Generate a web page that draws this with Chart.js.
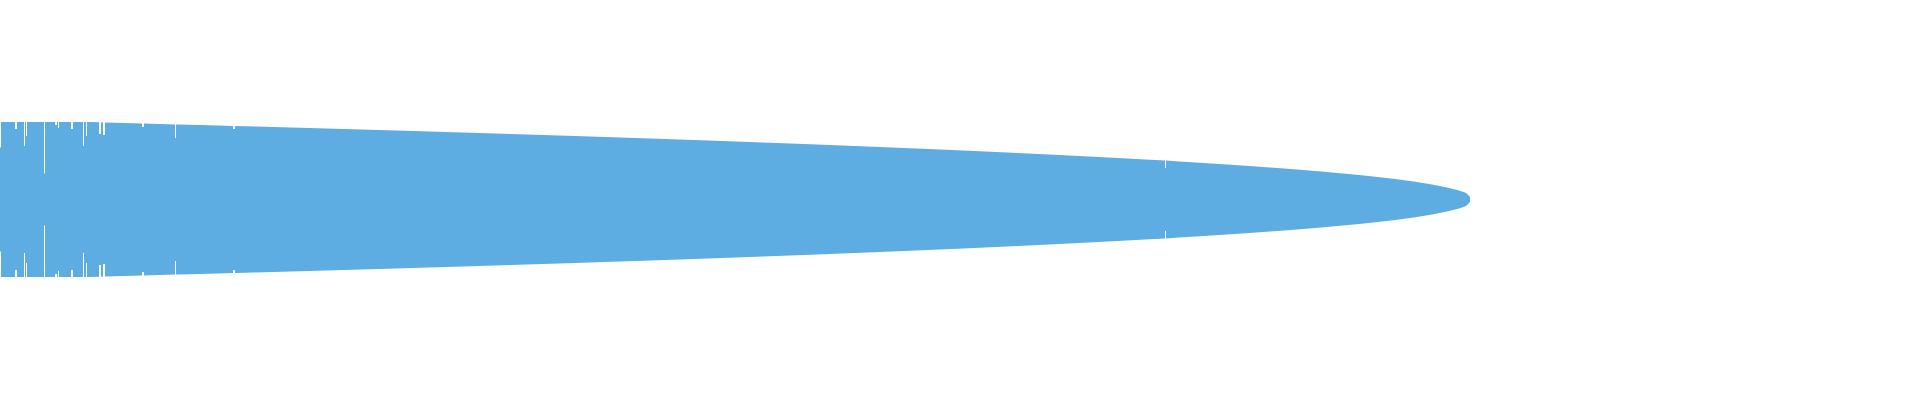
<!DOCTYPE html>
<html>
<head>
<meta charset="utf-8">
<script src="https://cdn.jsdelivr.net/npm/chart.js@4/dist/chart.umd.min.js"></script>
<style>
  html, body { margin: 0; padding: 0; background: #ffffff; }
  #wrap { width: 1920px; height: 400px; }
</style>
</head>
<body>
<div id="wrap"><canvas id="myChart"></canvas></div>
<script>
// position along the axis
const rank = [
    0, 1, 1, 15, 15, 17, 17, 24, 24, 25, 25, 26, 26, 27, 27,
    44, 44, 45, 45, 55, 55, 57, 57, 58, 58, 59, 59,
    71, 71, 73, 73, 83, 83, 84, 84, 86, 86, 87, 87,
    99, 99, 101, 101, 103, 103, 105, 105,
    142, 142, 144, 144, 175, 175, 176, 176, 180, 218,
    233, 233, 235, 235, 255, 291, 326, 361, 396, 429, 463, 495,
    527, 559, 590, 620, 650, 679, 708, 736, 763, 790, 817, 842,
    867, 892, 916, 940, 963, 985, 1007, 1028, 1049, 1069, 1089, 1108,
    1127, 1145, 1165, 1165, 1166, 1166, 1179, 1196, 1211, 1227, 1242, 1256,
    1270, 1284, 1297, 1309, 1321, 1332, 1343, 1354, 1364, 1373, 1382, 1391,
    1399, 1406, 1414, 1420, 1426, 1432, 1437, 1442, 1447, 1451, 1455, 1459,
    1462, 1465, 1467, 1468, 1469, 1470, 1470
];

// half width of the band at each position
const spread = [
    52, 52, 77.5, 77.5, 70.5, 70.5, 77.5, 77.5, 53.5, 53.5, 77.5, 77.5, 63.5, 63.5, 77.5,
    77.5, 26, 26, 77.5, 77.5, 74.5, 74.5, 77.5, 77.5, 71.5, 71.5, 77.5,
    77.5, 70.5, 70.5, 77.5, 77.5, 53.5, 53.5, 77.5, 77.5, 63.5, 63.5, 77.5,
    77.3, 65.5, 65.5, 77.3, 77.1, 64.5, 64.5, 77,
    76.1, 72.5, 72.5, 76, 75.1, 61.5, 61.5, 75.1, 75, 74,
    73.6, 70.5, 70.5, 73.5, 73, 72, 71, 70, 69, 68, 67, 66,
    65, 64, 63, 62, 61, 60, 59, 58, 57, 56, 55, 54,
    53, 52, 51, 50, 49, 48, 47, 46, 45, 44, 43, 42,
    41, 40, 39, 31.5, 31.5, 38.9, 38, 37, 36, 35, 34, 33,
    32, 31, 30, 29, 28, 27, 26, 25, 24, 23, 22, 21,
    20, 19, 18, 17, 16, 15, 14, 13, 12, 11, 10, 9,
    8, 7, 5.8, 4.8, 3.6, 2.5, 0
];

const bandColor = "#5DADE2";

let upper = rank.map((x, i) => ({ x: x, y: spread[i] }));
let lower = rank.map((x, i) => ({ x: x, y: -spread[i] }));

new Chart("myChart", {
    type: "line",
    data: {
        datasets: [
            {
                data: upper,
                fill: "+1",
                backgroundColor: bandColor,
                borderColor: "transparent",
                borderWidth: 0,
                pointRadius: 0,
                tension: 0
            },
            {
                data: lower,
                fill: false,
                backgroundColor: bandColor,
                borderColor: "transparent",
                borderWidth: 0,
                pointRadius: 0,
                tension: 0
            }
        ]
    },
    options: {
        responsive: true,
        maintainAspectRatio: false,
        animation: false,
        layout: { padding: 0 },
        plugins: {
            legend: { display: false },
            tooltip: { enabled: false }
        },
        scales: {
            x: { type: "linear", min: 0, max: 1920, display: false },
            y: { type: "linear", min: -200.5, max: 199.5, display: false }
        }
    }
});
</script>
</body>
</html>
